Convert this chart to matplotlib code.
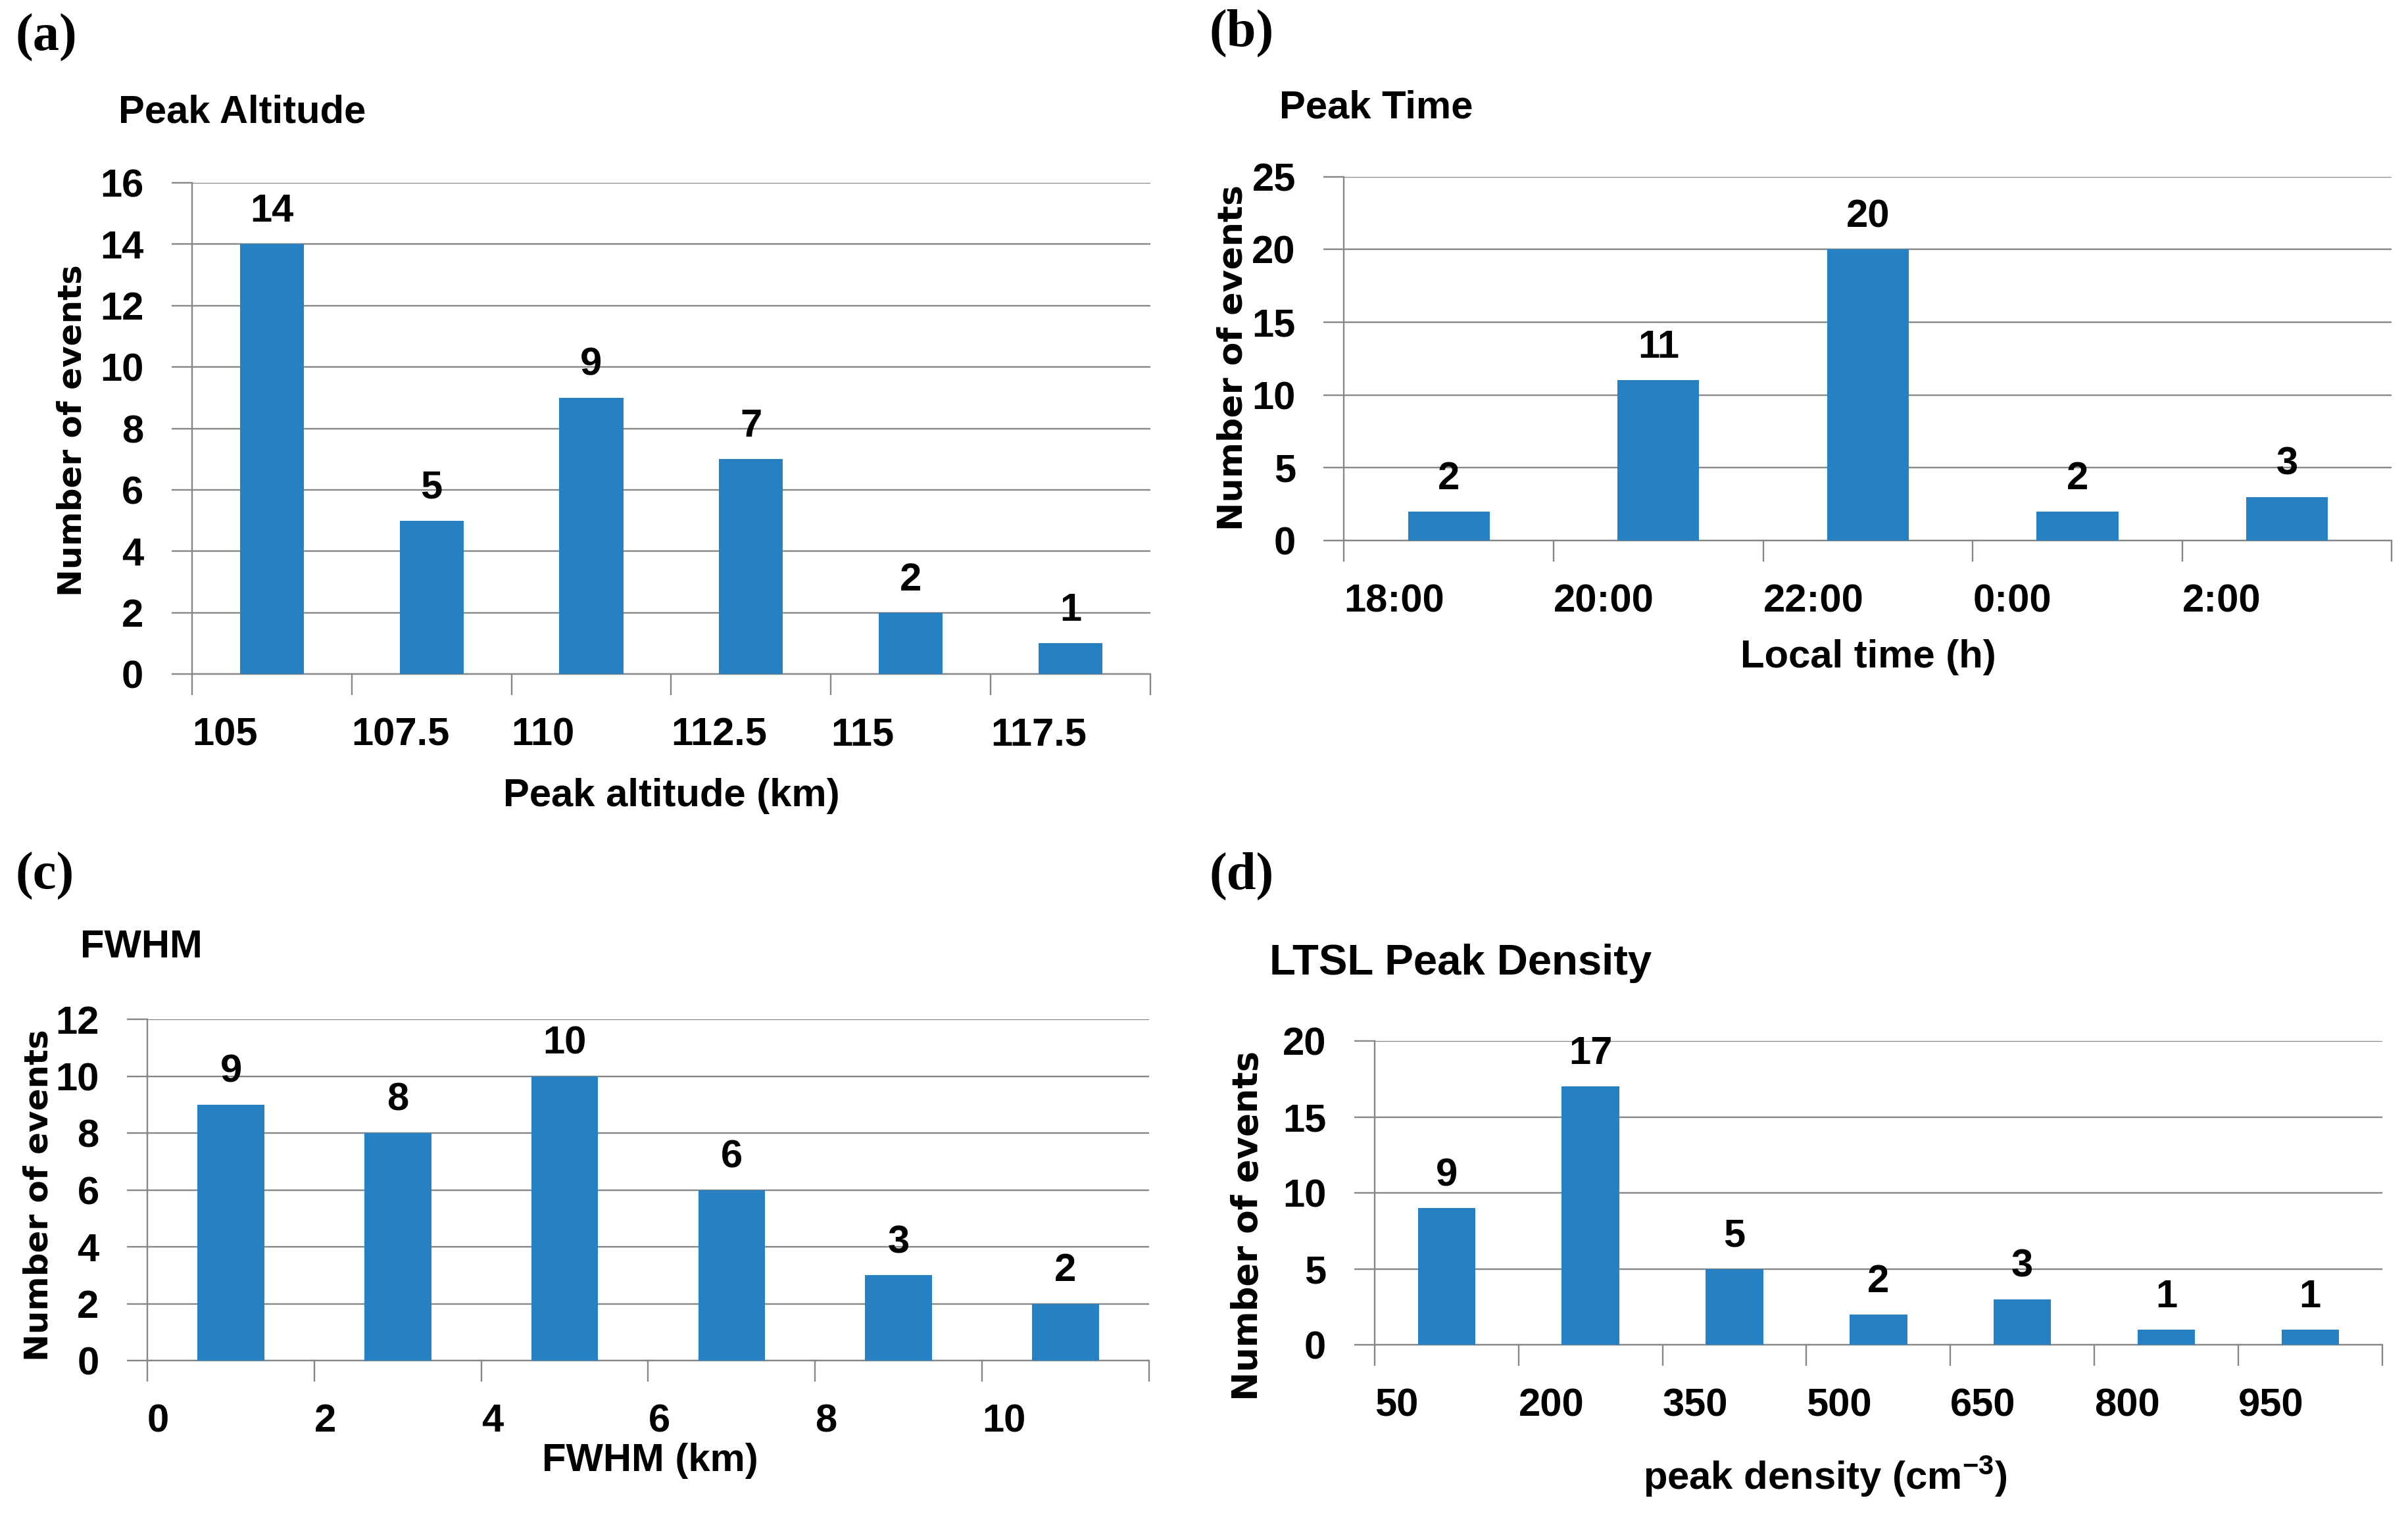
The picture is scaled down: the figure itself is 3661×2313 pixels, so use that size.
import numpy as np
import matplotlib.pyplot as plt

# Histogram counts
altitude_labels = ['105', '107.5', '110', '112.5', '115', '117.5']
altitude_counts = [14, 5, 9, 7, 2, 1]

time_labels = ['18:00', '20:00', '22:00', '0:00', '2:00']
time_counts = [2, 11, 20, 2, 3]

fwhm_labels = ['0', '2', '4', '6', '8', '10']
fwhm_counts = [9, 8, 10, 6, 3, 2]

density_labels = ['50', '200', '350', '500', '650', '800', '950']
density_counts = [9, 17, 5, 2, 3, 1, 1]

bar_color = '#2680c2'
grid_color = '#868686'

plt.rcParams['font.family'] = ['Liberation Sans', 'DejaVu Sans']
plt.rcParams['font.weight'] = 'bold'
plt.rcParams['mathtext.fontset'] = 'custom'
plt.rcParams['mathtext.rm'] = 'Liberation Sans:bold'
plt.rcParams['mathtext.default'] = 'rm'

fig = plt.figure(figsize=(36.62, 23.13), dpi=100)


def draw_hist(rect, labels, counts, ymax, ystep, width):
    ax = fig.add_axes(rect)
    x = np.arange(len(counts))
    ax.bar(x, counts, width=width, color=bar_color, zorder=3)
    # value on top of each bar
    for xi, c in zip(x, counts):
        ax.annotate(str(c), (xi, c), xytext=(0, 16), textcoords='offset points',
                    ha='center', va='bottom', fontsize=43, fontweight='bold')
    # category edges carry the ticks, labels sit left-aligned at each edge
    edges = np.arange(len(counts) + 1) - 0.5
    ax.set_xticks(edges)
    ax.set_xticklabels(list(labels) + [''], ha='left')
    ax.set_xlim(edges[0], edges[-1])
    ax.set_ylim(0, ymax)
    ax.set_yticks(np.arange(0, ymax + 1, ystep))
    ax.grid(axis='y', color=grid_color, linewidth=1.7, zorder=0)
    ax.set_axisbelow(True)
    for s in ['top', 'right']:
        ax.spines[s].set_visible(False)
    for s in ['left', 'bottom']:
        ax.spines[s].set_color(grid_color)
        ax.spines[s].set_linewidth(1.7)
    ax.tick_params(axis='x', length=23, width=1.7, color=grid_color, pad=24, labelsize=43)
    ax.tick_params(axis='y', length=22, width=1.7, color=grid_color, pad=31, labelsize=43)
    return ax


ax_a = draw_hist([0.0797, 0.5568, 0.3979, 0.3230], altitude_labels, altitude_counts, 16, 2, 0.4)
ax_b = draw_hist([0.558, 0.6446, 0.435, 0.2393], time_labels, time_counts, 25, 5, 0.39)
ax_c = draw_hist([0.0612, 0.1055, 0.4158, 0.2243], fwhm_labels, fwhm_counts, 12, 2, 0.4)
ax_d = draw_hist([0.5707, 0.1157, 0.4183, 0.1999], density_labels, density_counts, 20, 5, 0.4)

# panel letters
for px, py, letter in [(0.0064, 0.975, '(a)'), (0.502, 0.978, '(b)'),
                       (0.0064, 0.424, '(c)'), (0.502, 0.424, '(d)')]:
    fig.text(px, py, letter, ha='left', va='center', fontsize=58,
             family='Liberation Serif', fontweight='bold')

# titles
fig.text(0.0491, 0.926, 'Peak Altitude', ha='left', va='center', fontsize=43)
fig.text(0.531, 0.929, 'Peak Time', ha='left', va='center', fontsize=43)
fig.text(0.0332, 0.377, 'FWHM', ha='left', va='center', fontsize=43)
fig.text(0.527, 0.3667, 'LTSL Peak Density', ha='left', va='center', fontsize=47)

# x labels
fig.text(0.2787, 0.4768, 'Peak altitude (km)', ha='center', va='center', fontsize=43)
fig.text(0.7755, 0.5677, 'Local time (h)', ha='center', va='center', fontsize=43)
fig.text(0.2698, 0.0394, 'FWHM (km)', ha='center', va='center', fontsize=43)
fig.text(0.7577, 0.0293, 'peak density (cm$^{-3}$)', ha='center', va='center', fontsize=43)

# y labels
for px, py, fs in [(0.030, 0.717, 36), (0.512, 0.765, 37.5),
                   (0.016, 0.214, 36), (0.518, 0.194, 38)]:
    fig.text(px, py, 'Number of events', ha='center', va='center', rotation=90,
             fontsize=fs, family='DejaVu Sans', fontweight='bold')

fig.savefig('out.png', dpi=100)
